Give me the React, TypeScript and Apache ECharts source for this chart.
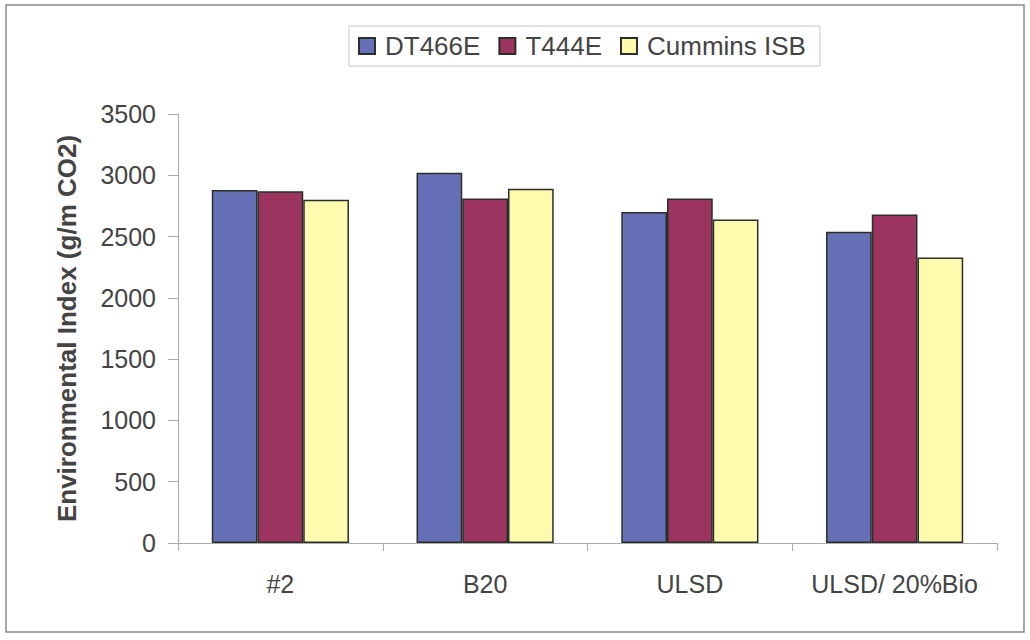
import React, { useEffect, useRef } from "react";
import * as echarts from "echarts";

const categories = ["#2", "B20", "ULSD", "ULSD/ 20%Bio"];
const seriesNames = ["DT466E", "T444E", "Cummins ISB"];
const dt466e = [2880, 3020, 2700, 2540];
const t444e = [2870, 2810, 2810, 2680];
const cumminsIsb = [2800, 2890, 2640, 2330];
const colors = ["#6670B6", "#9B355F", "#FFFBAE"];

export default function App() {
  const ref = useRef<HTMLDivElement>(null);
  useEffect(() => {
    if (!ref.current) return;
    const chart = echarts.init(ref.current, null, { renderer: "svg" });
    const data = [dt466e, t444e, cumminsIsb];
    const font = "Liberation Sans, Arial, sans-serif";
    chart.setOption({
      animation: false,
      backgroundColor: "#ffffff",
      textStyle: { fontFamily: font },
      graphic: [
        {
          type: "rect",
          shape: { x: 6, y: 5, width: 1018, height: 627 },
          style: { fill: "none", stroke: "#8a8a8a", lineWidth: 1.5 },
          silent: true,
        },
      ],
      legend: {
        left: 349,
        top: 26,
        padding: [7, 14, 7, 9],
        borderColor: "#c8c8c8",
        borderWidth: 1,
        itemWidth: 16,
        itemHeight: 16,
        itemGap: 18,
        icon: "rect",
        textStyle: { fontSize: 26, color: "#444", fontFamily: font, padding: [0, 0, 0, 5] },
        data: seriesNames,
      },
      grid: { left: 178, right: 33, top: 114, bottom: 97, containLabel: false },
      xAxis: {
        type: "category",
        data: categories,
        axisLine: { lineStyle: { color: "#aaa", width: 1 } },
        axisTick: { show: true, length: 8, lineStyle: { color: "#aaa" } },
        axisLabel: { fontSize: 25, color: "#444", margin: 28, fontFamily: font, interval: 0 },
      },
      yAxis: {
        type: "value",
        min: 0,
        max: 3500,
        interval: 500,
        name: "Environmental Index (g/m CO2)",
        nameLocation: "middle",
        nameGap: 98,
        nameTextStyle: { fontSize: 26, fontWeight: "bold", color: "#444", fontFamily: font },
        axisLine: { show: true, lineStyle: { color: "#aaa", width: 1 } },
        axisTick: { show: true, length: 10, lineStyle: { color: "#aaa" } },
        axisLabel: {
          fontSize: 25,
          color: "#444",
          margin: 22,
          fontFamily: font,
          formatter: (v: number) => String(v),
        },
        splitLine: { show: false },
      },
      series: seriesNames.map((name, i) => ({
        name,
        type: "bar",
        data: data[i],
        barGap: "0%",
        barCategoryGap: "33%",
        itemStyle: { color: colors[i], borderColor: "#2a2f2a", borderWidth: 1.5 },
      })),
    });
    return () => chart.dispose();
  }, []);
  return (
    <div
      ref={ref}
      style={{ position: "fixed", left: 0, top: 0, width: 1030, height: 640 }}
    />
  );
}
